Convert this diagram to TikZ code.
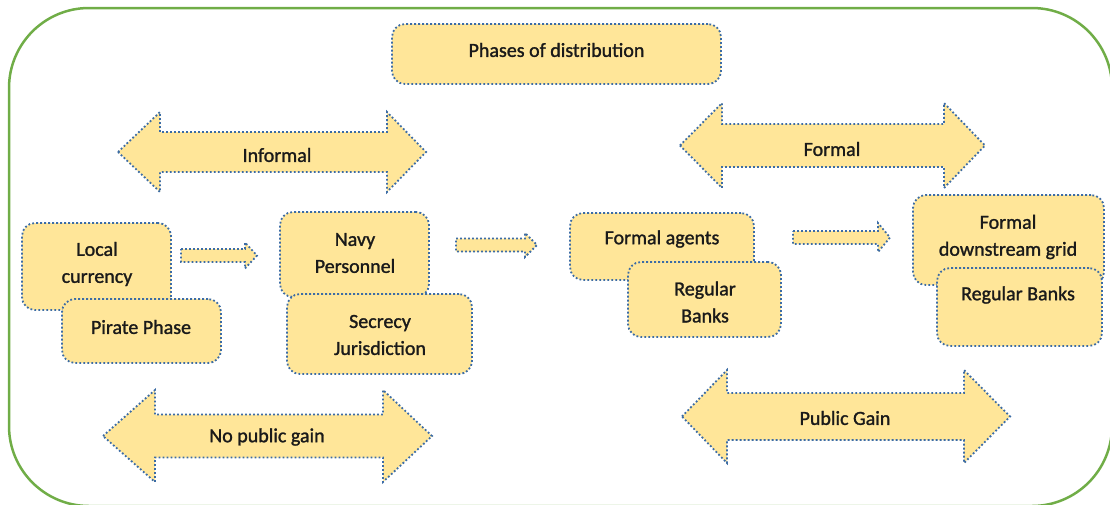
\documentclass[tikz,border=0pt]{standalone}
\usepackage{fontspec}
\setmainfont{Carlito}
\newfontfamily\lblfont{Carlito}[FakeBold=1.3]
\definecolor{fillc}{HTML}{FFE699}
\definecolor{bdr}{RGB}{60,108,165}
\definecolor{frm}{HTML}{70AD47}
\definecolor{txtc}{HTML}{1A1A1A}
\newcommand\dblarr[7]{%
  \draw[blk] (#1,#5) -- (#2,#5-#7) -- (#2,#5-#6) -- (#3,#5-#6) -- (#3,#5-#7) -- (#4,#5)
    -- (#3,#5+#7) -- (#3,#5+#6) -- (#2,#5+#6) -- (#2,#5+#7) -- cycle;}
\newcommand\sarr[6]{%
  \draw[blk] (#1,#4-#5) -- (#2,#4-#5) -- (#2,#4-#6) -- (#3,#4) -- (#2,#4+#6) -- (#2,#4+#5)
    -- (#1,#4+#5) -- cycle;}
\begin{document}
\begin{tikzpicture}[x=1pt,y=-1pt,
  blk/.style={draw=bdr, fill=fillc, line width=1.8pt, dash pattern=on 1.8pt off 2.2pt, line join=miter},
  box/.style={draw=bdr, fill=fillc, line width=1.8pt, dash pattern=on 1.8pt off 2.2pt,
    rounded corners=13pt, inner sep=0pt, rectangle},
  txt/.style={text=txtc, align=center, inner sep=0pt, font=\lblfont\fontsize{20}{27}\selectfont},
  frame/.style={draw=frm, line width=2.5pt, rounded corners=80pt}]
\useasboundingbox (0,0) rectangle (1110,504);
\begin{scope}
\clip (0,0) rectangle (1110,504);
\draw[frame] (9,8) rectangle (1112,506);
\end{scope}

% title
\node[box, minimum width=329pt, minimum height=60pt] (ph) at (556.5,54) {};
\node[txt] (pht) at (556.5,50) {Phases of distribution};

% double arrows
\dblarr{118}{160}{387}{426}{152}{20}{40}
\node[txt] (inf) at (277,155) {Informal};
\dblarr{680}{722}{944}{985}{145.5}{21.5}{42.5}
\node[txt] (for) at (832,149) {Formal};
\dblarr{103}{155}{383}{432}{436}{21.5}{46}
\node[txt] (npg) at (267,437) {No public gain};
\dblarr{682}{727}{964}{1010}{416.5}{23.5}{46.5}
\node[txt] (pg) at (845,418) {Public Gain};

% boxes left
\node[box, minimum width=149pt, minimum height=87pt] (lc) at (96.5,266.5) {};
\node[txt] (lct) at (97,264) {Local\\currency};
\node[box, minimum width=159pt, minimum height=64pt] (pp) at (141.5,331) {};
\node[txt] (ppt) at (141,327) {Pirate Phase};

\node[box, minimum width=149pt, minimum height=85pt] (np) at (354.5,254.5) {};
\node[txt] (npt) at (355,253) {Navy\\Personnel};
\node[box, minimum width=185pt, minimum height=80pt] (sj) at (379.5,334) {};
\node[txt] (sjt) at (380,335) {Secrecy\\Jurisdiction};

% boxes right
\node[box, minimum width=184pt, minimum height=67pt] (fa) at (662,246.5) {};
\node[txt] (fat) at (662,239) {Formal agents};
\node[box, minimum width=153pt, minimum height=75pt] (rb) at (704.5,299.5) {};
\node[txt] (rbt) at (705,302) {Regular\\Banks};

\node[box, minimum width=191pt, minimum height=90pt] (fd) at (1008.5,240) {};
\node[txt] (fdt) at (1008,237) {Formal\\downstream grid};
\node[box, minimum width=165pt, minimum height=78pt] (rb2) at (1019.5,307) {};
\node[txt] (rb2t) at (1018,295) {Regular Banks};

% small block arrows
\sarr{181}{245}{257}{255.5}{6.5}{13}
\sarr{456}{525}{537}{245}{6.5}{12}
\sarr{793}{878}{890}{237.5}{6.5}{14.5}
\end{tikzpicture}
\end{document}
